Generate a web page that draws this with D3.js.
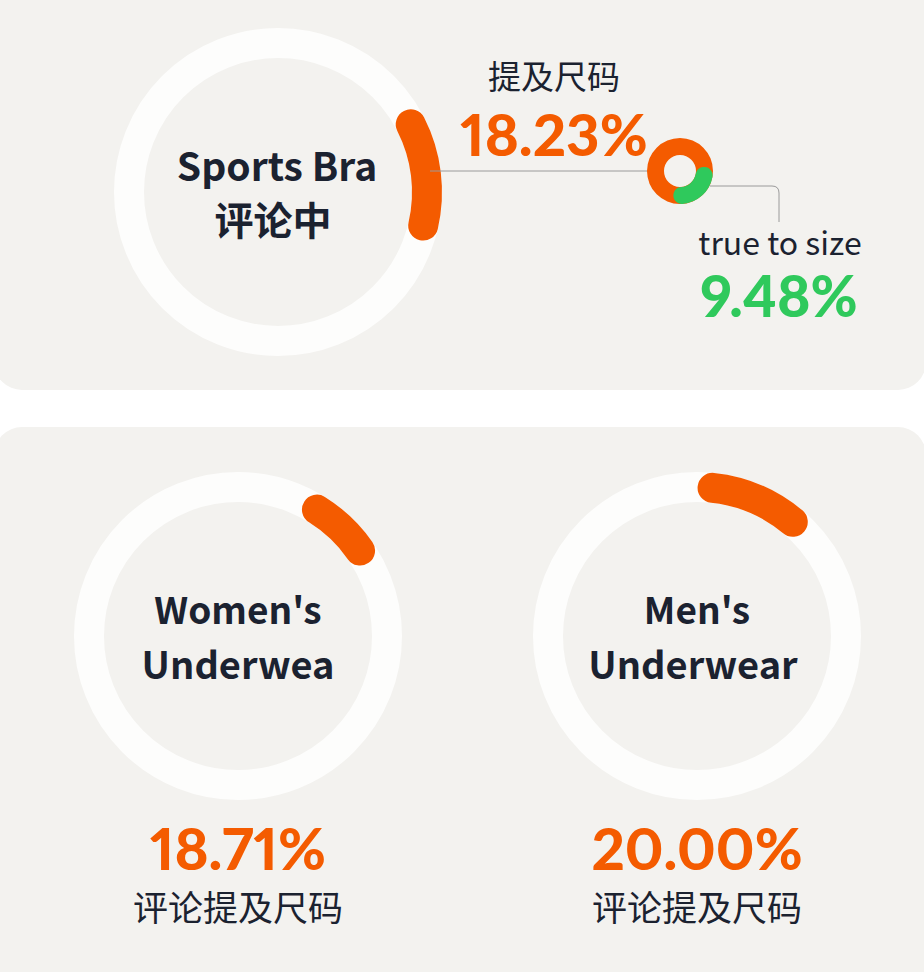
<!DOCTYPE html>
<html><head><meta charset="utf-8">
<script src="https://cdn.jsdelivr.net/npm/d3@7"></script>
<style>
html,body{margin:0;padding:0;background:#ffffff;}
svg{display:block;}
text{font-family:"Noto Sans CJK SC","Noto Sans",sans-serif;}
text.num{font-family:Lato,"Noto Sans",sans-serif;font-variant-numeric:proportional-nums;font-feature-settings:"pnum" 1;}
</style></head>
<body>
<svg id="chart" width="924" height="972"></svg>
<script>
// ---- data ----
const categories = ["Sports Bra", "Women's Underwea", "Men's Underwear"];
const titleLine1 = ["Sports Bra", "Women's", "Men's"];
const titleLine2 = ["评论中", "Underwea", "Underwear"];
const sizeMentionPct = [18.23, 18.71, 20.00];
// arc extent on each ring, degrees clockwise from 12 o'clock
const arcStartDeg = [63, 32, 6];
const arcEndDeg = [103, 55, 40];
const trueToSizePct = 9.48;
const donutGreenStartDeg = 80;
const donutGreenEndDeg = 196;
const mentionLabel = "提及尺码";
const reviewMentionLabel = "评论提及尺码";
const trueToSizeLabel = "true to size";

// ---- styles ----
const ORANGE = "#f45b00", GREEN = "#2fc95c", DARK = "#1b2230", PANEL = "#f3f2ef", RING = "#fdfdfc";

const svg = d3.select("#chart");
const deg = d3.scaleLinear().domain([0, 360]).range([0, 2 * Math.PI]);
const fmt = d3.format(".2f");

// panels
svg.append("rect").attr("x", -6).attr("y", -40).attr("width", 932).attr("height", 430).attr("rx", 28).attr("fill", PANEL);
svg.append("rect").attr("x", -6).attr("y", 427).attr("width", 932).attr("height", 600).attr("rx", 28).attr("fill", PANEL);

const rings = [
  {cx: 278, cy: 192},
  {cx: 238, cy: 636},
  {cx: 697, cy: 636}
];
const R = 149, W = 30;

rings.forEach((c, i) => {
  const g = svg.append("g").attr("transform", `translate(${c.cx},${c.cy})`);
  g.append("circle").attr("r", R).attr("fill", "none").attr("stroke", RING).attr("stroke-width", W);
  const p = d3.path();
  const a0 = deg(arcStartDeg[i]) - Math.PI / 2, a1 = deg(arcEndDeg[i]) - Math.PI / 2;
  p.arc(0, 0, R, a0, a1, false);
  g.append("path").attr("d", p.toString()).attr("fill", "none").attr("stroke", ORANGE)
    .attr("stroke-width", W).attr("stroke-linecap", "round");
});

// ring titles
const titleY1 = [181, 624, 624], titleY2 = [235, 679, 679];
const titleX2 = [273, 238, 693];
rings.forEach((c, i) => {
  svg.append("text").attr("x", c.cx - (i === 0 ? 1 : 0)).attr("y", titleY1[i]).attr("text-anchor", "middle")
    .attr("font-size", i === 0 ? 39 : 37).attr("font-weight", 700).attr("fill", DARK).text(titleLine1[i]);
  svg.append("text").attr("x", titleX2[i]).attr("y", titleY2[i]).attr("text-anchor", "middle")
    .attr("font-size", i === 0 ? 39 : 38).attr("font-weight", 700).attr("fill", DARK).text(titleLine2[i]);
});

// top panel: leader line + small donut
const dc = {x: 680, y: 171};
svg.append("line").attr("x1", 430).attr("y1", dc.y).attr("x2", dc.x - 33).attr("y2", dc.y)
  .attr("stroke", "#9a9a9a").attr("stroke-width", 1);
svg.append("path").attr("d", `M${dc.x + 30},186 H772 Q779,186 779,193 V222`)
  .attr("fill", "none").attr("stroke", "#9a9a9a").attr("stroke-width", 1);

const dg = svg.append("g").attr("transform", `translate(${dc.x},${dc.y})`);
dg.append("path").attr("d", d3.arc().innerRadius(16).outerRadius(33).startAngle(0).endAngle(2 * Math.PI)()).attr("fill", ORANGE);
dg.append("path").attr("d", d3.arc().innerRadius(16).outerRadius(33).cornerRadius(8.5)
  .startAngle(deg(donutGreenStartDeg)).endAngle(deg(donutGreenEndDeg))()).attr("fill", GREEN);

svg.append("text").attr("x", 554).attr("y", 89).attr("text-anchor", "middle").attr("font-size", 33)
  .attr("fill", DARK).text(mentionLabel);
svg.append("text").attr("class", "num").attr("x", 554).attr("y", 156).attr("text-anchor", "middle").attr("font-size", 58)
  .attr("font-weight", 900).attr("fill", ORANGE).text(fmt(sizeMentionPct[0]) + "%");
svg.append("text").attr("x", 780).attr("y", 255).attr("text-anchor", "middle").attr("font-size", 32)
  .attr("fill", DARK).text(trueToSizeLabel);
svg.append("text").attr("class", "num").attr("x", 779).attr("y", 317).attr("text-anchor", "middle").attr("font-size", 57)
  .attr("font-weight", 900).attr("fill", GREEN).text(fmt(trueToSizePct) + "%");

// bottom panel values
[1, 2].forEach(i => {
  const c = rings[i];
  svg.append("text").attr("class", "num").attr("x", c.cx).attr("y", 870).attr("text-anchor", "middle").attr("font-size", 58)
    .attr("font-weight", 900).attr("fill", ORANGE).text(fmt(sizeMentionPct[i]) + "%");
  svg.append("text").attr("x", c.cx).attr("y", 921).attr("text-anchor", "middle").attr("font-size", 35)
    .attr("fill", DARK).text(reviewMentionLabel);
});
</script>
</body></html>
